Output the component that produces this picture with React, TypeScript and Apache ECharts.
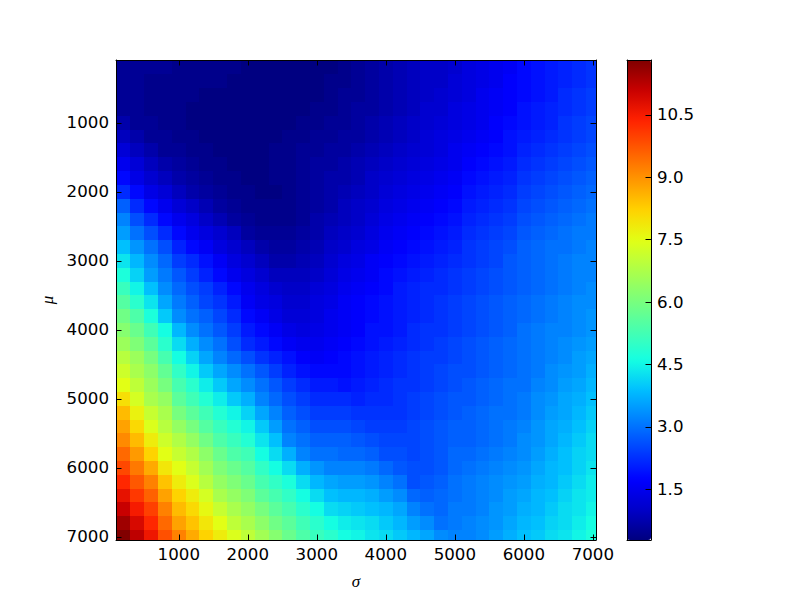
import React, { useEffect, useRef } from "react";
import * as echarts from "echarts";

const sigmaValues = [200,400,600,800,1000,1200,1400,1600,1800,2000,2200,2400,2600,2800,3000,3200,3400,3600,3800,4000,4200,4400,4600,4800,5000,5200,5400,5600,5800,6000,6200,6400,6600,6800,7000];
const muValues = [200,400,600,800,1000,1200,1400,1600,1800,2000,2200,2400,2600,2800,3000,3200,3400,3600,3800,4000,4200,4400,4600,4800,5000,5200,5400,5600,5800,6000,6200,6400,6600,6800,7000];

// Values, one row per mu, one column per sigma.
const cellValues = [
[.5,.5,.5,.5,.4,.4,.4,.4,.4,.3,.3,.3,.3,.3,.3,.3,.4,.5,.6,.7,.8,.9,1.0,1.0,1.1,1.3,1.4,1.5,1.6,1.8,1.9,2.0,2.1,2.2,2.3],
[.5,.5,.4,.4,.4,.4,.4,.4,.3,.3,.3,.3,.3,.3,.3,.4,.4,.5,.6,.7,.8,.9,1.0,1.0,1.2,1.3,1.4,1.5,1.7,1.8,1.9,2.0,2.1,2.2,2.3],
[.5,.5,.4,.4,.4,.4,.3,.3,.3,.3,.3,.3,.3,.3,.3,.4,.5,.5,.6,.7,.8,.9,1.0,1.1,1.2,1.3,1.5,1.6,1.7,1.8,1.9,2.0,2.2,2.3,2.4],
[.5,.5,.4,.4,.4,.3,.3,.3,.3,.3,.3,.3,.3,.3,.4,.4,.5,.6,.6,.7,.8,.9,1.1,1.1,1.3,1.4,1.5,1.6,1.7,1.9,2.0,2.1,2.2,2.3,2.4],
[.7,.5,.5,.4,.4,.3,.3,.3,.3,.3,.3,.3,.3,.4,.4,.5,.5,.6,.7,.8,.9,1.0,1.1,1.2,1.3,1.4,1.5,1.7,1.8,1.9,2.0,2.1,2.3,2.4,2.5],
[.9,.7,.5,.5,.4,.4,.3,.3,.3,.3,.3,.3,.4,.4,.5,.5,.6,.6,.7,.8,.9,1.0,1.2,1.3,1.4,1.5,1.6,1.7,1.9,2.0,2.1,2.2,2.3,2.4,2.5],
[1.2,.9,.7,.5,.5,.4,.4,.3,.3,.3,.3,.4,.4,.5,.5,.6,.6,.7,.8,.9,1.0,1.1,1.2,1.3,1.5,1.6,1.7,1.8,1.9,2.1,2.2,2.3,2.4,2.5,2.6],
[1.5,1.2,.9,.7,.6,.5,.4,.4,.3,.3,.3,.4,.4,.5,.6,.6,.7,.8,.9,1.0,1.1,1.2,1.3,1.4,1.5,1.7,1.8,1.9,2.0,2.2,2.3,2.4,2.5,2.6,2.7],
[1.8,1.4,1.1,.9,.7,.6,.5,.4,.4,.3,.3,.4,.4,.5,.6,.7,.7,.8,1.0,1.1,1.2,1.3,1.4,1.5,1.6,1.8,1.9,2.0,2.1,2.3,2.4,2.5,2.6,2.7,2.8],
[2.2,1.8,1.4,1.2,.9,.7,.6,.5,.4,.4,.3,.3,.4,.5,.6,.7,.8,.9,1.0,1.2,1.3,1.4,1.5,1.6,1.7,1.9,2.0,2.1,2.2,2.4,2.5,2.6,2.7,2.8,2.9],
[2.8,2.2,1.8,1.5,1.2,1.0,.8,.6,.5,.4,.4,.4,.4,.5,.6,.7,.9,1.0,1.1,1.3,1.4,1.5,1.6,1.7,1.8,2.0,2.1,2.2,2.3,2.5,2.6,2.7,2.8,2.9,3.0],
[3.2,2.6,2.2,1.8,1.5,1.3,1.0,.8,.6,.5,.4,.4,.4,.5,.7,.8,.9,1.0,1.2,1.4,1.5,1.6,1.7,1.8,1.9,2.1,2.2,2.3,2.4,2.6,2.7,2.8,2.9,3.0,3.1],
[3.5,3.0,2.6,2.2,1.8,1.5,1.3,1.1,.9,.6,.5,.5,.5,.6,.7,.9,1.0,1.1,1.3,1.5,1.6,1.7,1.8,1.9,2.0,2.2,2.3,2.4,2.5,2.7,2.8,2.9,3.0,3.1,3.1],
[3.9,3.4,3.0,2.6,2.1,1.8,1.6,1.3,1.1,.9,.7,.6,.6,.7,.8,1.0,1.1,1.3,1.4,1.6,1.7,1.8,1.9,2.0,2.1,2.3,2.4,2.5,2.6,2.8,2.9,3.0,3.0,3.1,3.2],
[4.3,3.8,3.3,2.9,2.4,2.2,1.9,1.6,1.3,1.1,.9,.7,.7,.8,.9,1.1,1.3,1.4,1.6,1.7,1.8,1.9,2.0,2.1,2.2,2.3,2.4,2.5,2.7,2.8,2.9,3.0,3.1,3.2,3.2],
[4.7,4.1,3.5,3.1,2.7,2.4,2.1,1.8,1.5,1.3,1.1,.9,.9,.9,1.0,1.2,1.4,1.5,1.6,1.8,1.9,2.0,2.1,2.2,2.3,2.4,2.5,2.6,2.7,2.8,2.9,3.0,3.1,3.2,3.2],
[5.1,4.5,3.9,3.3,2.9,2.6,2.4,2.1,1.8,1.5,1.3,1.1,1.0,1.0,1.2,1.3,1.5,1.6,1.7,1.8,2.0,2.1,2.2,2.2,2.3,2.4,2.5,2.6,2.7,2.8,2.9,3.0,3.1,3.2,3.3],
[5.5,4.9,4.3,3.6,3.1,2.8,2.5,2.3,2.0,1.6,1.4,1.3,1.1,1.1,1.3,1.4,1.6,1.7,1.8,1.9,2.0,2.1,2.2,2.3,2.4,2.5,2.6,2.7,2.8,2.9,3.0,3.1,3.2,3.3,3.3],
[5.9,5.4,4.7,4.0,3.3,3.0,2.8,2.5,2.2,1.8,1.6,1.4,1.2,1.2,1.3,1.5,1.6,1.7,1.8,1.9,2.0,2.1,2.2,2.3,2.4,2.5,2.6,2.7,2.8,2.9,3.0,3.1,3.2,3.3,3.4],
[6.2,5.8,5.2,4.6,3.8,3.3,3.0,2.7,2.4,2.0,1.8,1.6,1.4,1.3,1.4,1.5,1.6,1.7,1.9,1.9,2.0,2.2,2.3,2.3,2.4,2.5,2.6,2.7,2.8,3.0,3.1,3.2,3.2,3.3,3.4],
[6.5,6.1,5.6,4.9,4.2,3.7,3.3,3.0,2.6,2.2,2.0,1.8,1.6,1.5,1.5,1.6,1.7,1.8,1.9,2.0,2.1,2.2,2.3,2.4,2.5,2.6,2.7,2.8,2.9,3.0,3.1,3.2,3.3,3.4,3.5],
[6.9,6.5,6.0,5.3,4.6,4.1,3.6,3.2,2.9,2.6,2.3,2.1,1.9,1.7,1.6,1.7,1.8,1.9,2.0,2.1,2.2,2.3,2.4,2.4,2.5,2.6,2.7,2.8,2.9,3.0,3.1,3.2,3.3,3.5,3.6],
[7.2,6.7,6.3,5.7,5.0,4.5,4.0,3.6,3.3,3.0,2.7,2.4,2.1,1.9,1.8,1.8,1.8,1.9,2.0,2.1,2.2,2.3,2.4,2.5,2.6,2.6,2.7,2.8,2.9,3.0,3.1,3.3,3.4,3.5,3.7],
[7.5,7.0,6.5,6.0,5.3,4.9,4.4,4.0,3.6,3.3,3.0,2.7,2.4,2.2,2.0,2.0,1.9,2.0,2.1,2.2,2.3,2.3,2.4,2.5,2.6,2.7,2.8,2.9,3.0,3.0,3.2,3.3,3.5,3.6,3.8],
[8.0,7.3,6.7,6.4,5.6,5.2,4.8,4.4,4.0,3.7,3.2,2.9,2.6,2.4,2.2,2.2,2.2,2.1,2.2,2.2,2.3,2.4,2.5,2.6,2.7,2.7,2.8,2.9,3.0,3.1,3.3,3.4,3.6,3.7,3.9],
[8.5,7.7,7.1,6.7,6.0,5.6,5.2,4.8,4.5,4.1,3.6,3.2,2.8,2.6,2.4,2.4,2.4,2.3,2.3,2.3,2.3,2.4,2.5,2.6,2.7,2.8,2.9,3.0,3.0,3.1,3.3,3.5,3.6,3.8,4.0],
[8.8,8.1,7.4,6.9,6.4,6.0,5.5,5.1,4.8,4.5,4.0,3.5,3.0,2.8,2.6,2.6,2.6,2.5,2.4,2.4,2.4,2.5,2.6,2.7,2.8,2.8,2.9,3.0,3.1,3.2,3.4,3.6,3.7,3.9,4.1],
[9.1,8.5,7.8,7.2,6.8,6.4,5.9,5.4,5.1,4.8,4.3,3.9,3.2,3.0,2.8,2.8,2.8,2.7,2.6,2.5,2.5,2.5,2.6,2.7,2.8,2.8,2.9,3.0,3.1,3.3,3.4,3.6,3.8,4.0,4.2],
[9.5,8.9,8.2,7.5,7.1,6.8,6.3,5.8,5.4,5.2,4.6,4.2,3.7,3.2,3.0,3.0,2.9,2.9,2.8,2.6,2.6,2.5,2.6,2.7,2.9,2.9,3.0,3.1,3.2,3.3,3.5,3.7,3.9,4.1,4.2],
[9.9,9.3,8.7,7.9,7.5,7.1,6.6,6.1,5.8,5.5,5.0,4.6,4.2,3.7,3.4,3.2,3.2,3.2,3.1,2.9,2.7,2.6,2.6,2.7,2.9,3.0,3.1,3.2,3.3,3.4,3.6,3.8,3.9,4.1,4.3],
[10.3,9.7,9.2,8.4,7.8,7.4,6.9,6.4,6.1,5.8,5.3,5.0,4.7,4.2,3.8,3.6,3.5,3.5,3.4,3.2,3.0,2.6,2.7,2.8,3.0,3.1,3.2,3.3,3.4,3.5,3.7,3.8,4.0,4.2,4.4],
[10.7,10.1,9.6,8.8,8.2,7.8,7.3,6.7,6.4,6.1,5.6,5.3,5.0,4.6,4.2,3.9,3.8,3.8,3.7,3.5,3.3,2.9,2.8,2.9,3.0,3.1,3.2,3.3,3.5,3.6,3.8,3.9,4.1,4.3,4.4],
[11.1,10.5,10.0,9.2,8.5,8.1,7.6,7.1,6.7,6.4,6.0,5.6,5.3,4.9,4.6,4.2,4.1,4.0,3.9,3.8,3.6,3.2,3.0,2.9,3.1,3.1,3.2,3.4,3.5,3.7,3.8,4.0,4.2,4.3,4.5],
[11.5,10.9,10.3,9.5,8.8,8.4,7.9,7.5,7.0,6.7,6.3,5.9,5.6,5.2,4.9,4.6,4.4,4.3,4.2,4.0,3.8,3.5,3.3,3.0,3.1,3.2,3.3,3.4,3.6,3.8,3.9,4.1,4.2,4.4,4.6],
[11.8,11.2,10.6,9.8,9.2,8.7,8.2,7.8,7.4,7.0,6.6,6.2,5.8,5.4,5.1,4.9,4.6,4.5,4.3,4.2,4.0,3.8,3.6,3.3,3.2,3.2,3.3,3.5,3.7,3.9,4.0,4.2,4.3,4.5,4.7],
];

const axisTicks = [1000, 2000, 3000, 4000, 5000, 6000, 7000];
const colorbarTicks = [1.5, 3.0, 4.5, 6.0, 7.5, 9.0, 10.5];
const jetColors = ["#00007f","#0000c8","#0000ff","#0040ff","#0080ff","#00bfff","#15ffe2","#48ffae","#7bff7b","#aeff48","#e2ff15","#ffd200","#ff9700","#ff5c00","#ff2100","#c80000","#7f0000"];

const AXIS_MIN = 90;
const AXIS_MAX = 7046;
const VALUE_MIN = 0.28;
const VALUE_MAX = 11.82;
const HALF_CELL = 100;
const FONT = "DejaVu Sans";
const LABEL_SIZE = 16.67;
const NAME_STYLE = { fontFamily: "Liberation Serif", fontStyle: "italic", fontSize: 17, color: "#000" };

export default function App() {
  const ref = useRef<HTMLDivElement>(null);
  useEffect(() => {
    const chart = echarts.init(ref.current, undefined, { renderer: "svg" });
    const line = { show: true, onZero: false, lineStyle: { color: "#000", width: 1 } };
    const tick = (vals: number[]) => ({ show: true, inside: true, length: 5.5, customValues: vals, lineStyle: { color: "#000", width: 1 } });
    const label = (vals: number[], margin: number, fmt?: (v: number) => string) => ({
      show: true, customValues: vals, margin, color: "#000", fontSize: LABEL_SIZE, fontFamily: FONT, formatter: fmt,
    });
    const noLabel = { show: false };
    const base = { type: "value", min: AXIS_MIN, max: AXIS_MAX, splitLine: { show: false }, z: 10, gridIndex: 0 };
    const bar = { type: "value", min: VALUE_MIN, max: VALUE_MAX, splitLine: { show: false }, z: 10, gridIndex: 1 };
    const barX = { type: "value", min: 0, max: 1, gridIndex: 1, splitLine: { show: false }, axisTick: { show: false }, axisLabel: noLabel, axisLine: line, z: 10 };
    chart.setOption({
      animation: false,
      backgroundColor: "#fff",
      grid: [
        { left: 116, top: 60, width: 480, height: 480 },
        { left: 627, top: 60, width: 24, height: 480 },
      ],
      xAxis: [
        { ...base, position: "bottom", axisLine: line, axisTick: tick(axisTicks), axisLabel: label(axisTicks, 6, (v) => String(v)),
          name: "σ", nameLocation: "middle", nameGap: 33, nameTextStyle: NAME_STYLE },
        { ...base, position: "top", axisLine: line, axisTick: tick(axisTicks), axisLabel: noLabel },
        { ...barX, position: "bottom" },
        { ...barX, position: "top" },
      ],
      yAxis: [
        { ...base, inverse: true, position: "left", axisLine: line, axisTick: tick(axisTicks), axisLabel: label(axisTicks, 7, (v) => String(v)),
          name: "μ", nameLocation: "middle", nameGap: 59, nameTextStyle: NAME_STYLE },
        { ...base, inverse: true, position: "right", axisLine: line, axisTick: tick(axisTicks), axisLabel: noLabel },
        { ...bar, position: "right", axisLine: line, axisTick: tick(colorbarTicks), axisLabel: label(colorbarTicks, 6, (v) => v.toFixed(1)) },
        { ...bar, position: "left", axisLine: line, axisTick: { show: false }, axisLabel: noLabel },
      ],
      visualMap: {
        type: "continuous",
        min: VALUE_MIN,
        max: VALUE_MAX,
        dimension: 2,
        seriesIndex: 0,
        left: 627,
        top: 60,
        padding: 0,
        itemWidth: 24,
        itemHeight: 480,
        calculable: false,
        hoverLink: false,
        text: ["", ""],
        textGap: 0,
        inRange: { color: jetColors },
      },
      series: [
        {
          type: "custom",
          silent: true,
          xAxisIndex: 0,
          yAxisIndex: 0,
          encode: { x: 0, y: 1 },
          data: muValues.flatMap((mu, i) => sigmaValues.map((sigma, j) => [sigma, mu, cellValues[i][j]])),
          renderItem: (_: any, api: any) => {
            const x = api.value(0);
            const y = api.value(1);
            const a = api.coord([Math.max(x - HALF_CELL, AXIS_MIN), Math.max(y - HALF_CELL, AXIS_MIN)]);
            const b = api.coord([Math.min(x + HALF_CELL, AXIS_MAX), Math.min(y + HALF_CELL, AXIS_MAX)]);
            const left = Math.round(a[0]);
            const top = Math.round(a[1]);
            return {
              type: "rect",
              shape: { x: left, y: top, width: Math.round(b[0]) - left, height: Math.round(b[1]) - top },
              style: { fill: api.visual("color") },
            };
          },
        },
      ],
    });
    return () => chart.dispose();
  }, []);
  return <div ref={ref} style={{ position: "absolute", left: 0, top: 0, width: 800, height: 600 }} />;
}
